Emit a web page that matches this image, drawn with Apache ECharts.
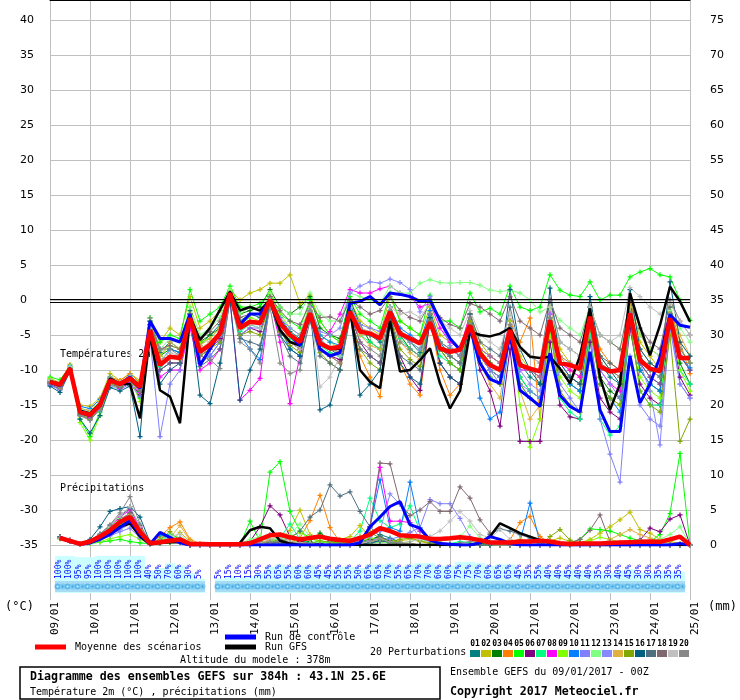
<!DOCTYPE html>
<html>
<head>
<meta charset="utf-8">
<script src="https://cdn.jsdelivr.net/npm/echarts@6/dist/echarts.min.js"></script>
<style>
html,body{margin:0;padding:0;background:#fff}
#main{width:740px;height:700px}
</style>
</head>
<body>
<div id="main"></div>
<script>
// pas de 6h, 65 échéances (0h .. 384h)
var dates = ['09/01','10/01','11/01','12/01','13/01','14/01','15/01','16/01','17/01',
  '18/01','19/01','20/01','21/01','22/01','23/01','24/01','25/01'];

var memberColors = ['#008080','#c0c000','#008000','#ff8000','#00ff00','#800080','#00ff80',
  '#ff00ff','#80ff00','#0080ff','#8080ff','#80ff80','#8888ff','#e0b040','#80a800',
  '#006080','#507080','#806870','#c0c0c0','#888888'];

// probabilité de précipitations (%) par échéance
var rainProb = [null,100,100,95,95,100,100,100,100,100,40,50,70,60,30,5,null,
  5,15,10,15,30,55,65,55,60,60,45,45,55,55,50,65,65,70,55,65,70,70,60,60,75,75,70,60,
  65,65,45,35,55,40,40,45,40,40,35,30,40,45,30,30,35,35,35,null];

// Températures 2m (°C)
var tempMean = [-11.7,-12.1,-9.8,-16,-16.4,-15,-11.5,-12,-11.2,-12.4, -4.3,-9.3,-8.1,-8.3,-2.6,-7.4,-6.4,-4.8,1,-4,-3.1,-3.3, 0,-3.3,-5,-6,-1.9,-6.2,-6.9,-6.7,-1.7,-4.5,-4.8,-5.5,-1.7,-4.8,-5.5,-6.2,-3.2,-6.9,-7.4,-7.1,-3.6,-7.6,-9.3,-10, -4.3,-9.3,-9.8,-10.2,-2.9,-9,-9.3,-9.8,-2.4,-9.5,-10.2,-10,-1.9,-8.6,-9.8,-10.2,-2.6,-8.3,-8.3];
var tempCtrl = [-11.8,-12.2,-9.8,-16,-16.5,-15,-11.4,-12,-11,-12.6, -3,-5.5,-5.5,-6,-2,-9.3,-7,-4.5,1,-3.5,-2,-2, 0,-3,-5,-6.5,-2,-7,-8,-7.5,-0.5,-0.2,0.5,-0.7,1,0.8,0.5,-0.2,0,-2.9,-5.5,-7.1,-4,-9,-11.3,-11.9, -5,-12.9,-14,-15.2,-7.6,-13.6,-15.2,-16,-7.4,-15.7,-18.8,-18.8,-8,-14.7,-12,-8.1,-2.1,-3.6,-3.9];
var tempGfs = [-11.6,-12,-9.7,-15.8,-16.2,-14.8,-11.2,-12,-12,-16.9, -5,-12.9,-13.8,-17.6,-2.4,-5.7,-4,-1.4,1.2,-1.5,-1,-1.5, 0,-4.3,-6,-6.5,-2,-6.2,-7,-7,-1.5,-10,-11.7,-12.6,-3,-10.2,-10,-8.6,-6.9,-11.9,-15.5,-13,-4.5,-5,-5.2,-4.8, -4,-6.7,-8.1,-8.3,-8.1,-9.8,-11.9,-8,-1.2,-11,-15.7,-12,1,-3.8,-7.9,-3.6,1.9,-0.2,-3.1];

var temp01 = [-11.5,-12.3,-9.6,-15.8,-16,-14.6,-11.2,-11.8,-10.8,-12, -3.5,-7.5,-6,-7,-1.5,-6.5,-5,-3.5,1,-3,-2,-2.5, 0.5,-2.5,-4.5,-5.5,-1,-5.5,-7,-8,-1.5,-4,-5,-6,-1,-4.5,-6,-7.5,-2.5,-6,-7,-8,-3,-8,-10,-11, -4,-9,-11,-12,-2.5,-10,-11,-12,-2,-9,-11,-12,-1,-8,-10,-11,-2,-7,-9];
var temp02 = [-11.2,-11.8,-9.2,-15,-15.2,-14,-10.5,-11.5,-10.5,-11.5, -3,-6,-4,-5,0.5,-4,-3,-1.5,1.5,0,1,1.5, 2.4,2.4,3.6,-0.5,0.7,-3,-5,-6,0,-3,-4,-5,0.5,-3,-4,-5,-1,-5,-6,-7,-2,-6,-8,-9, -3,-8,-10,-11,-1,-7,-9,-10,-1,-8,-10,-11,0,-6,-8,-10,-1,-7,-9];
var temp03 = [-11.8,-12.5,-10,-16.2,-16.8,-15.2,-11.8,-12.3,-11.5,-13, -4,-8,-7,-7.5,-2,-6,-5,-4,0.5,-2,-1.5,-1, 1.5,-1,-2,-1,0.5,-4,-5,-5.5,0,-3.5,-6,-7,-1,-5,-7,-8,-2,-7,-9,-10,-3,-8,-10,-11, -4,-11,-13,-14,-3,-10,-12,-13,-3,-11,-13,-14,-2,-10,-12,-13,-2,-9,-12];
var temp04 = [-11.4,-12,-9.5,-15.5,-15.8,-14.5,-11,-11.5,-10.5,-11.8, -3.5,-8.5,-8,-8.5,-2.5,-7,-6,-4.5,1,-4,-3.5,-3, 0,-3,-6,-7,-2,-7,-8,-9,-2,-8,-11,-13.8,-2,-9,-12,-13.6,-3,-10,-13.6,-12,-4,-8,-9,-10, -3,-6,-2.6,-17,-2,-8,-10,-11,-1,-7,-9,-10,-0.5,-5,-7,-8,-1,-6,-10.5];
var temp05 = [-11,-11.4,-9.5,-17,-19.5,-16,-11.5,-12.5,-11.5,-14, -2.5,-6,-5,-5.5,1.5,-3,-2,-1,2,-1,-1,-0.5, 1,-2,-3,-4,0,-3,-5,-6,0.5,-2,-3,-4,1,-3,-4,-5,0.7,-3,-3,-4,1,-1.7,-1.2,-2, 2,-1,-1.5,-1,3.6,1.4,0.7,0.5,2.6,0,0.7,0.7,3.3,4,4.5,3.6,3.3,0,-2.9];
var temp06 = [-12,-12.8,-10.2,-16.5,-17,-15.5,-12,-12.5,-11.8,-13.5, -5,-10,-9,-9,-3,-8,-7,-5.5,0.5,-5,-4,-4.5, -0.5,-4,-6,-7,-2.5,-7,-8,-8.5,-2,-6,-8,-9,-2.5,-8,-11,-12.9,-3,-9,-11,-12,-4,-10,-13,-18, -7,-20.2,-20.2,-20.2,-6,-15,-16.7,-17,-6,-14,-16,-17,-4,-12,-14,-15,-3,-11,-13.6];
var temp07 = [-11.6,-12.2,-9.7,-16.3,-16.5,-15,-11.6,-12.2,-11.4,-12.7, -4.5,-9.5,-8,-8,-3,-7.5,-6.5,-5,1,-4.5,-3.5,-4, 0,-3.5,-5.5,-6.5,-2,-6.5,-7.5,-8,-1.5,-5,-6,-7,-2,-5.5,-7,-8,-3,-8,-9,-10,-3.5,-9,-11,-12, -5,-11,-13,-14,-4,-14,-16,-17,-5,-17,-19.3,-18,-3,-13,-15,-15,-1,-10,-12];
var temp08 = [-11.9,-12.4,-9.9,-16,-16.8,-15.2,-11.7,-12.6,-11.8,-13.2, -5.5,-11,-10,-10,-4,-10,-9,-7,0,-14.3,-12.9,-11.2, 0,-6,-14.8,-8,-1,-6,-4.5,-2,1.5,1,1,1.6,2,1,0.5,-1,-0.5,-4,-6,-7,-2,-7,-8,-9, -3,-10,-10,-11,-2,-9,-10,-11,-3,-10,-12,-13,-2,-9,-11,-12,-3,-8,-10];
var temp09 = [-11.3,-12,-9.6,-17.5,-20,-16.5,-12,-12.8,-11.2,-14.5, -3,-8,-6.5,-7,-1,-6,-5.5,-4,1.5,-3.5,-2.5,-3, 1,-2,-4,-5,-0.5,-5,-6,-7,-1,-4,-5,-5.5,-1,-5,-6,-7,-1.5,-6,-8,-9,-2,-7,-9,-10, -3,-15,-21,-17,-5,-11,-13,-14,-4,-12,-14,-15,-2,-11,-13,-14,-1,-10,-13];
var temp10 = [-11.5,-12,-9.4,-15.2,-15.5,-14.2,-11,-11.8,-10.8,-12.2, -4,-9,-7,-7.5,-2.5,-9,-8,-6,0.5,-5,-7,-8.5, -0.5,-4,-7,-8,-1.5,-5,-6,-6.5,-0.5,-4,-5,-5.5,-1,-4,-5,-6,-1.5,-6,-8,-9,-3,-14,-17,-16, -5,-12,-14,-15,-3,-10,-12,-13,-3,-12,-14,-16,-2,-10,-12,-13,-2,-8,-9.7];
var temp11 = [-12.2,-12.8,-10,-16.5,-17,-15.8,-12.2,-12.8,-12,-13.8, -5.5,-19.5,-12,-10,-3,-9,-8,-6,0,-5,-4,-4, 0.5,-3,-5,-6,-1.5,-6,-7,-7.5,-1,-3.5,-4,-4.5,-1,-5,-6,-7,-2,-7,-8,-9,-3,-8,-10,-12, -4,-12,-13,-14,-3,-12,-14,-16,-4,-17,-22,-26,-8,-15,-17,-18,-4,-12,-14];
var temp12 = [-11.4,-11.9,-9.5,-15.5,-15.9,-14.4,-11.1,-11.8,-10.9,-12, -3,-7,-5.5,-6,-1,-5,-4,-2.5,1.5,-2,-1,-1.5, 1,-1,-2,-2,1,-2,-3,-3,1,0.5,0,-0.5,2,1,1,2.4,2.9,2.5,2.4,2.5,2.5,2.1,1.4,1.2, 1.4,1,0,-1.7,-1,-2.9,-4,-5,-1,-5,-6,-7,-1,-5,-7,-8,-1.5,-4,-6];
var temp13 = [-12,-12.6,-10.1,-16,-16.3,-15,-11.4,-12.2,-11.3,-12.6, -4.5,-9,-8,-8,-2.5,-7.5,-6.5,-5,0.5,-4,-3,-3.5, 0,-2.5,-4,-5,-1,-4.5,-5,-4,1,2,2.6,2.4,3,2.5,1.5,-1.7,0.5,-3,-6.5,-8,-3,-8,-10,-11, -4,-10,-12,-13,-2,-9,-11,-12,-3,-10,-12,-14,-2,-9,-13,-20.7,-3,-12,-14];
var temp14 = [-11.7,-12.2,-9.8,-16.1,-16.4,-15.1,-11.4,-12.1,-11.2,-12.3, -4,-8,-6,-7,-2,-6.5,-5.5,-4,1,-3.5,-3,-3, 0.5,-3,-5,-6,-1.5,-6,-7,-7.5,-1.5,-5,-6.5,-7,-1.5,-6,-7.5,-8.5,-3,-7,-8,-9,-3,-9,-12,-14, -5,-13,-17,-15,-4,-10,-11,-12,-2,-9,-10,-11,-1,-7,-9,-10,-1,-5,-8];
var temp15 = [-11.9,-12.6,-10,-16.3,-17,-15.5,-11.9,-12.4,-11.6,-13, -4.5,-9,-8,-8.5,-3,-8,-7,-6,0.5,-5,-4.5,-5, -0.5,-4.5,-6.5,-7.5,-2.5,-7.5,-9,-10,-2.5,-7,-9,-10,-2,-7,-8.5,-9.5,-2.5,-7,-9,-10,-3,-9,-11,-12, -5,-12,-14,-15,-4,-13,-15,-16,-4,-12,-14,-15,-3,-13,-15,-16,-5,-20.2,-17];
var temp16 = [-12.3,-13.2,-10.2,-17,-19,-16.5,-12.5,-13,-12.3,-19.5, -3,-12,-10,-9,-2,-13.6,-14.8,-9,0,-14.3,-10,-7, -0.5,-5,-7,-8,-1,-15.7,-15,-10,-1.5,-13.6,-12,-10,-2,-9,-11,-12,-2.5,-9,-11,-12,-2,-8,-9,-10, 1.5,-7,-10,-12,1.7,-9,-11,-12,0.5,-8,-10,-12,1.5,-7,-9,-10,2.6,-6,-8];
var temp17 = [-11.6,-12.2,-9.8,-16.3,-16.6,-15.2,-11.4,-12.2,-11.5,-13, -5,-10,-9,-9,-3,-9.5,-8.5,-7,0.5,-5.5,-6,-6.5, -0.5,-5,-8,-9,-3,-8,-9,-10,-2.5,-7,-8,-9,-2.5,-8,-9,-10,-3,-7,-8,-9,-2,-6,-7,-8, -1,-7,-8,-9,0,-6,-7,-8,-1,-8,-9,-10,0,-9,-11,-12,-1,-8,-10];
var temp18 = [-11.8,-12.3,-9.9,-15.8,-16.2,-14.9,-11.2,-11.9,-11,-12.1, -3.5,-7,-6.5,-7,-2,-5.5,-4.5,-3,1,-2.5,-2,-2, 0.5,-1.5,-3,-3.5,-0.5,-2.5,-2.4,-3,0,-1,-2,-1.5,0.5,-1.5,-2.5,-3,-0.5,-2.5,-3.5,-4,-0.5,-1,-2,-3, 0.5,-3,-4,-5,0,-4,-5,-6,-1,-5,-6,-7,0,-4,-6,-7,0,-3,-5];
var temp19 = [-11.5,-12,-9.6,-15.6,-16,-14.7,-11.3,-11.7,-10.9,-12.2, -4,-8.5,-7.5,-8,-2.5,-7,-6,-4.5,0.5,-4,-3.5,-4, 0,-4,-6,-7,-1,-12.4,-11,-8,-1,-4,-4.5,-5,-1,-2,-1.7,-2.5,-0.5,-3,-4,-5,-1.5,-5,-6,-7, -2,-7,-8,-9,-1,-6,-7,-8,-1,-5,-6,-5,1.8,0.5,-1,-2,-0.5,-3,-5];
var temp20 = [-11.9,-12.5,-10,-16.5,-17.2,-15.6,-11.8,-12.3,-11.4,-12.8, -2.6,-7,-7,-8,-2,-8,-8.5,-9.8,0.5,-6,-7,-9, -1,-9,-10.5,-10,-1.5,-7,-8,-9,-1.5,-6,-7,-8,-1.5,-6,-7,-8,-2,-6,-7,-8,-2.5,-7,-8,-9, -3.5,-9,-10,-11,-2.5,-8,-9,-10,-2.5,-9,-10,-11,-2,-8,-10,-11,-2,-7,-9];

// Précipitations (mm / 6h)
var precMean = [null,1.0,0.6,0.15,0.5,1.2,2.1,3.3,4.0,1.9, 0.25,0.4,0.6,0.8,0.15,0.15,0.1,0.1,0.1,0.1, 0.25,0.8,1.4,1.5,1.1,0.8,1.0,1.2,0.9,0.7, 0.6,1.0,1.5,2.4,2.0,1.4,1.3,1.2,0.9,0.85, 0.95,1.1,0.95,0.7,0.35,0.35,0.35,0.5,0.5,0.6, 0.5,0.25,0.15,0.2,0.2,0.2,0.3,0.35,0.4,0.45, 0.5,0.45,0.8,1.2,0];
var precCtrl = [null,1.0,0.5,0.1,0.3,0.8,1.5,2.5,3.5,1.5, 0.1,1.8,1.1,0.3,0,0,0,0,0,0, 0,0,0,0,0,0,0,0,0,0, 0,0.3,2.6,4.0,5.5,6.2,2.9,2.4,0.7,0.2, 0.1,0,0,0.3,1.2,0.8,0.2,0,0,0, 0,0,0,0,0,0,0,0,0,0, 0,0,0,0.2,0];
var precGfs = [null,1.0,0.5,0.2,0.4,0.9,1.6,2.6,3.1,1.2, 0.1,0.3,0.4,0.4,0,0,0,0,0,0.3, 2.1,2.6,2.4,0.6,0.2,0,0,0,0,0, 0,0,0,0,0,0,0,0,0,0, 0,0,0,0.3,1.2,3.1,2.4,1.7,1.2,0.7, 0.3,0,0,0,0,0,0,0,0,0, 0,0,0,0,0];

var prec01 = [null,1.1,0.5,0.1,0.6,1.5,2.4,3.6,4.5,2.0, 0.2,0.5,0.8,0.4,0,0,0,0,0,0, 0.5,1.0,0.8,0.3,0,0,0,0.2,0.6,0.2, 0,0,0.5,1.5,1.0,0.4,0,0,0,0, 0,0,0,0,0,0,0,0.3,0.5,0.2, 0,0,0,0,0,0,0,0,0,0, 0,0,0,0,0];
var prec02 = [null,0.9,0.6,0.2,0.3,0.9,1.6,2.8,3.5,1.0, 0.1,0.3,0.4,1.8,0.5,0,0,0,0,0, 0,0.2,0.5,0.7,2.1,5.0,1.5,0.5,0.3,0.8, 1.2,2.8,1.0,0.5,0.3,0.6,0.8,0.5,0.2,0, 0,0,0,0,0,0,0.5,0.8,0.5,0.3, 0.6,1.0,0.5,0.3,0.8,1.7,2.6,3.6,4.7,2.2, 1.7,0.8,0.5,0.2,0];
var prec03 = [null,1.0,0.7,0.1,0.4,1.0,1.8,3.0,3.8,1.5, 0.2,0.6,1.0,0.7,0,0,0,0,0,0, 0,0.3,0.6,0.4,0.2,0.5,0.5,1.7,0.8,0.3, 0.2,0.5,0.8,1.2,0.6,0.3,0.2,0,0,0, 0,0,0,0.2,0.3,0.5,0.2,0,0,0, 0,0,0,0,0,0,0,0,0,0, 0,0,0,0,0];
var prec04 = [null,1.2,0.6,0.2,0.5,1.3,2.2,3.5,4.2,2.2, 0.3,1.2,2.5,3.3,0.8,0.2,0,0,0,0, 0,0.3,0.8,0.5,0.4,1.0,3.5,7.1,2.5,0.4, 0.2,0.3,0.6,1.0,0.5,0.3,0.2,0,0,0, 0,0,0,0,0,0,0.7,3.2,4.1,1.2, 0.3,0,0,0,0,0,0,0,0,0, 0,0,0,0,0];
var prec05 = [null,0.9,0.5,0.1,0.2,0.4,0.6,0.8,0.5,0.3, 0.2,1.5,1.0,0.5,0,0,0,0,0,0, 3.4,0.5,10.4,11.9,4.8,2.0,1.0,0.5,0.3,0.2, 0,0,0.3,0.6,0.3,0,0,0,0,0, 0,0,0,0,0,0,0,0,0,0, 0,0,0.3,0.8,2.3,2.2,2.0,1.5,1.0,0.6, 0.5,1.5,4.5,13.1,0];
var prec06 = [null,1.0,0.6,0.2,0.5,1.1,2.0,3.2,4.6,2.4, 0.2,0.4,0.5,0.6,0,0,0,0,0,0, 0.5,2.6,5.6,4.3,1.2,0.5,0.3,0.2,0,0, 0,0,0.3,0.5,0.3,0,0,0,0,0, 0,0,0,0,0,0,0,0,0,0, 0,0,0,0,0,0,0,0,0.3,0.7, 2.4,1.9,3.7,4.3,0];
var prec07 = [null,1.0,0.6,0.2,0.4,1.2,2.3,3.4,4.1,1.8, 0.3,0.8,1.5,1.0,0.2,0,0,0,0,0, 0,0.2,0.5,1.0,3.0,0.8,0.3,0.5,0.2,0.3, 0.5,2.0,6.7,3.5,2.5,3.0,5.6,2.0,0.8,0.3, 0.2,0.5,0.3,0,0,0,0,0,0,0, 0,0,0,0,0,0,0,0,0,0, 0,0,0,0,0];
var prec08 = [null,1.1,0.7,0.2,0.6,1.4,2.6,4.0,5.0,2.6, 0.2,0.4,0.6,0.5,0,0,0,0,0,0, 0,0,0.2,0.5,0.3,0.2,0,0,0,0, 0.3,0.8,2.6,11.1,3.4,3.4,3.2,2.0,0.7,0.3, 0.2,0,0,0,0,0,0,0,0,0, 0,0,0,0,0,0,0,0,0,0, 0,0,0,0,0];
var prec09 = [null,0.9,0.5,0.1,0.2,0.5,0.9,1.2,1.5,0.8, 0.1,0.2,0.3,0.4,0,0,0,0,0,0, 0.3,1.0,0.8,0.6,1.2,1.8,0.9,0.5,0.3,0.2, 0.2,0.5,1.0,0.7,0.4,0.2,0,0,0,0, 0,0,0,0.5,0.4,0.2,0,0,0,0, 0,0,0,0,0.6,1.1,0.8,0.4,0.2,0, 0,0,0,0,0];
var prec10 = [null,1.0,0.6,0.2,0.5,1.2,2.0,3.1,4.2,1.6, 0.2,1.5,0.8,0.4,0,0,0,0,0,0, 0,0,0.3,0.5,0.4,0.2,0,0,0,0, 0.2,0.5,2.6,9.3,2.5,2.0,9.0,2.4,1.0,0.3, 0,0,0,0,0,0,0,0.5,6.0,0.3, 0,0,0,0,0,0,0,0,0,0, 0,0,0,0,0];
var prec11 = [null,1.0,0.5,0.1,0.4,0.8,1.3,1.9,2.4,1.0, 0.1,0.3,0.5,0.6,0,0,0,0,0,0, 0,0,0.2,0.4,0.2,0,0,0,0,0, 0.2,0.4,0.6,1.0,0.8,1.2,1.8,2.5,6.5,5.9, 5.9,3.8,1.2,0.5,0.2,0,0,0,0,0, 0,0,0,0,0,0,0,0,0,0, 0,0,0,0,0];
var prec12 = [null,1.0,0.6,0.2,0.5,1.3,2.5,3.8,4.4,2.0, 0.3,0.7,1.2,0.8,0.2,0,0,0,0,0.2, 0.8,1.2,0.6,0.5,1.5,3.0,1.2,0.6,0.3,0.2, 0,0,0.2,0.4,0.3,0.2,0.5,0.8,0.5,0.6, 0.8,1.2,2.7,1.0,0.4,0.2,0,0,0,0, 0,0,0,0,0,0,0,0,0.3,0.5, 0.6,0.8,1.5,2.6,0];
var prec13 = [null,1.0,0.6,0.2,0.4,1.0,1.6,2.2,3.0,1.2, 0.2,0.5,0.8,0.9,0,0,0,0,0,0, 0,0.5,1.5,0.8,0.3,0,0,0,0,0, 0.2,0.6,1.2,2.0,7.3,5.8,3.0,1.0,0.4,0.2, 0,0,0,0,0,0,0,0,0,0, 0,0,0,0,0,0,0,0,0,0, 0,0,0,0,0];
var prec14 = [null,1.1,0.6,0.2,0.5,1.2,2.2,3.4,4.3,2.1, 0.3,0.6,1.0,2.8,0.6,0,0,0,0,0, 0,0.2,0.6,1.5,0.8,0.3,0.2,0,0,0, 0,0.3,0.5,0.8,0.4,0.2,0,0,0,0, 0,0,0,0,0,0,0,0,0,0, 0,0,0,0,0,0,0.8,1.5,2.2,1.5, 1.0,0.5,0.3,0.2,0];
var prec15 = [null,1.0,0.6,0.2,0.5,1.1,1.9,2.9,3.6,1.7, 0.2,0.8,1.9,0.6,0,0,0,0,0,0, 0.2,0.5,0.3,0.8,0.5,0.3,0.2,0.6,0.4,0.3, 0.5,1.2,1.8,1.0,0.5,0.8,1.0,0.6,0.3,0.2, 0,0,0,0,0,0,0,0,0,0, 1.2,2.2,0.7,0.2,0,0,0,0,0,0, 0,0,0,0,0];
var prec16 = [null,1.2,0.6,0.2,0.8,2.6,4.8,5.2,5.5,4.0, 0.4,0.3,0.4,0.5,0,0,0,0,0,0, 0,0,0.2,0.3,0.2,0,0,0,0,0, 0,0,0.3,0.6,0.4,0.2,0,0,0,0, 0,0,0,0,0,0.3,0,0,0,0, 0,0,0,0,0,0,0,0,0,0, 0,0,0,0,0];
var prec17 = [null,1.1,0.6,0.2,0.6,1.6,2.8,4.2,5.2,2.8, 0.3,0.5,0.7,0.6,0,0,0,0,0,0, 0,0,0.3,0.5,1.0,2.0,4.0,5.0,8.6,7.0, 7.6,4.8,2.6,1.2,0.5,0.2,0,0,0,0, 0,0,0,0,1.5,2.3,2.0,1.5,1.0,0.5, 0.2,0,0,0,0,0,0,0,0,0, 0,0,0,0,0];
var prec18 = [null,1.0,0.6,0.2,0.5,1.2,2.2,3.6,4.6,2.3, 0.2,0.4,0.6,0.7,0,0,0,0,0,0, 0,0,0.2,0.4,0.2,0,0,0,0,0, 0.3,0.8,2.6,11.7,11.6,6.0,4.2,5.0,6.2,4.8, 4.8,8.3,6.7,3.6,1.7,0.5,0.2,0,0,0, 0,0,0.3,0.8,2.1,4.3,0.5,0.2,0,0, 0,0,0,0,0];
var prec19 = [null,1.0,0.6,0.2,0.5,1.4,2.6,4.2,5.5,2.6, 0.3,0.5,1.2,1.6,0.2,0,0,0,0,0, 0,0.3,0.8,1.0,0.5,0.3,0.2,0,0,0, 0,0.2,0.5,0.8,0.5,0.3,0.5,0.8,1.2,2.0, 3.4,4.8,3.4,1.5,1.0,2.2,0.8,0.3,0,0, 0,0,0,0,0,0,0,0,0,0, 0,0,0,0,0];
var prec20 = [null,1.1,0.6,0.2,0.5,1.5,2.9,4.6,6.9,3.0, 0.3,0.5,0.7,0.8,0,0,0,0,0,0, 0,0.2,0.5,0.6,0.3,0.2,0,0,0,0, 0.2,0.4,0.6,0.8,0.4,0.3,0.2,0,0,0, 0,0.3,0.5,0.4,0.2,0,0,0,0,0, 0,0,0,0,0,0,0,0,0,0, 0,0,0,0,0];

var tempMembers = [temp01,temp02,temp03,temp04,temp05,temp06,temp07,temp08,temp09,temp10,
  temp11,temp12,temp13,temp14,temp15,temp16,temp17,temp18,temp19,temp20];
var precMembers = [prec01,prec02,prec03,prec04,prec05,prec06,prec07,prec08,prec09,prec10,
  prec11,prec12,prec13,prec14,prec15,prec16,prec17,prec18,prec19,prec20];

var MONO = "'DejaVu Sans Mono', monospace";
var steps = [];
var xCats = [];
for (var i = 0; i < 65; i++) {
  steps.push(i * 6);
  xCats.push(i % 4 === 0 ? dates[i / 4] : '');
}
var cross = 'path://M-1,-4H1V-1H4V1H1V4H-1V1H-4V-1H-1Z';

var chart = echarts.init(document.getElementById('main'));

var series = [];
function memberLine(data, color, yIdx) {
  return {
    type: 'line', xAxisIndex: 0, yAxisIndex: yIdx, data: data,
    symbol: cross, symbolSize: 5, showSymbol: true, silent: true,
    lineStyle: {width: 1, color: color}, itemStyle: {color: color}, z: 2
  };
}
function mainLine(data, color, w, yIdx, z) {
  return {
    type: 'line', xAxisIndex: 0, yAxisIndex: yIdx, data: data,
    symbol: 'none', silent: true, lineStyle: {width: w, color: color}, z: z
  };
}
for (var m = 0; m < 20; m++) {
  series.push(memberLine(tempMembers[m], memberColors[m], 0));
  series.push(memberLine(precMembers[m], memberColors[m], 1));
}
var gfsT = mainLine(tempGfs, '#000', 2.5, 0, 3);
gfsT.markLine = {
  silent: true, symbol: 'none', label: {show: false}, animation: false,
  lineStyle: {color: '#000', width: 1.2, type: 'solid'},
  data: [{yAxis: 0.1}, {yAxis: -0.25}]
};
series.push(gfsT);
series.push(mainLine(precGfs, '#000', 2.5, 1, 3));
series.push(mainLine(tempCtrl, '#0000ff', 3, 0, 4));
series.push(mainLine(precCtrl, '#0000ff', 3, 1, 4));
series.push(mainLine(tempMean, '#ff0000', 4.5, 0, 5));
series.push(mainLine(precMean, '#ff0000', 4.5, 1, 5));

// bandeau des probabilités de précipitations
var probData = [];
rainProb.forEach(function (p, i) { if (p !== null) probData.push([i, p]); });
series.push({
  type: 'custom', xAxisIndex: 1, yAxisIndex: 2, data: probData, clip: false, silent: true, z: 1,
  renderItem: function (params, api) {
    var i = api.value(0), p = api.value(1);
    var x = api.coord([i, 0])[0];
    var yb = api.coord([i, 593])[1];
    var h = 13 + p * 0.24;
    var kids = [
      {type: 'rect', shape: {x: x - 5, y: yb - h, width: 10, height: h}, style: {fill: '#ccffff'}},
      {type: 'rect', shape: {x: x - 5, y: yb - 12, width: 10, height: 11}, style: {fill: '#a8dcf4'}},
      {type: 'circle', shape: {cx: x - 2.5, cy: yb - 6.5, r: 3}, style: {fill: '#5cb8ea'}},
      {type: 'circle', shape: {cx: x + 2.5, cy: yb - 6.5, r: 3}, style: {fill: '#7ccaf0'}},
      {type: 'circle', shape: {cx: x - 2.5, cy: yb - 6.5, r: 1}, style: {fill: '#d8f2ff'}},
      {type: 'circle', shape: {cx: x + 2.5, cy: yb - 6.5, r: 1}, style: {fill: '#3aa0dc'}},
      {type: 'text', x: x - 1, y: yb - 14, rotation: Math.PI / 2,
        style: {text: p + '%', fill: '#0000ff', font: '8px ' + MONO, align: 'left', verticalAlign: 'middle'}}
    ];
    return {type: 'group', children: kids};
  }
});

var graphics = [
  {type: 'text', x: 5, y: 607, style: {text: '(°C)', font: '12px ' + MONO, fill: '#000', verticalAlign: 'middle'}},
  {type: 'text', x: 708, y: 607, style: {text: '(mm)', font: '12px ' + MONO, fill: '#000', verticalAlign: 'middle'}},
  {type: 'text', x: 60, y: 354, style: {text: 'Températures 2m', font: '10px ' + MONO, fill: '#000', verticalAlign: 'middle'}},
  {type: 'text', x: 60, y: 488, style: {text: 'Précipitations', font: '10px ' + MONO, fill: '#000', verticalAlign: 'middle'}},
  {type: 'line', shape: {x1: 35, y1: 647, x2: 66, y2: 647}, style: {stroke: '#ff0000', lineWidth: 5}},
  {type: 'text', x: 75, y: 647, style: {text: 'Moyenne des scénarios', font: '10px ' + MONO, fill: '#000', verticalAlign: 'middle'}},
  {type: 'line', shape: {x1: 225, y1: 637, x2: 256, y2: 637}, style: {stroke: '#0000ff', lineWidth: 5}},
  {type: 'text', x: 265, y: 637, style: {text: 'Run de contrôle', font: '10px ' + MONO, fill: '#000', verticalAlign: 'middle'}},
  {type: 'line', shape: {x1: 225, y1: 647, x2: 256, y2: 647}, style: {stroke: '#000', lineWidth: 5}},
  {type: 'text', x: 265, y: 647, style: {text: 'Run GFS', font: '10px ' + MONO, fill: '#000', verticalAlign: 'middle'}},
  {type: 'text', x: 180, y: 660, style: {text: 'Altitude du modele : 378m', font: '10px ' + MONO, fill: '#000', verticalAlign: 'middle'}},
  {type: 'text', x: 370, y: 652, style: {text: '20 Perturbations', font: '10px ' + MONO, fill: '#000', verticalAlign: 'middle'}},
  {type: 'rect', shape: {x: 20, y: 667, width: 420, height: 32}, style: {fill: 'none', stroke: '#000', lineWidth: 1.5}},
  {type: 'text', x: 30, y: 677, style: {text: 'Diagramme des ensembles GEFS sur 384h : 43.1N 25.6E', font: 'bold 11.6px ' + MONO, fill: '#000', verticalAlign: 'middle'}},
  {type: 'text', x: 30, y: 692, style: {text: 'Température 2m (°C) , précipitations (mm)', font: '10px ' + MONO, fill: '#000', verticalAlign: 'middle'}},
  {type: 'text', x: 450, y: 672, style: {text: 'Ensemble GEFS du 09/01/2017 - 00Z', font: '10px ' + MONO, fill: '#000', verticalAlign: 'middle'}},
  {type: 'text', x: 450, y: 692, style: {text: 'Copyright 2017 Meteociel.fr', font: 'bold 11.6px ' + MONO, fill: '#000', verticalAlign: 'middle'}}
];
memberColors.forEach(function (c, k) {
  var bx = 470 + k * 11;
  graphics.push({type: 'rect', shape: {x: bx, y: 650, width: 10, height: 7}, style: {fill: c}});
  graphics.push({type: 'text', x: bx + 5, y: 644, style: {text: (k < 9 ? '0' : '') + (k + 1), font: 'bold 8px ' + MONO, fill: '#000', align: 'center', verticalAlign: 'middle'}});
});

chart.setOption({
  animation: false,
  backgroundColor: '#fff',
  grid: [
    {left: 50, right: 50, top: 20, bottom: 155},
    {left: 50, right: 50, top: 0, bottom: 100}
  ],
  xAxis: [
    {type: 'category', gridIndex: 0, data: steps, boundaryGap: false, show: false},
    {type: 'category', gridIndex: 1, data: xCats, boundaryGap: false,
      axisLine: {show: true, lineStyle: {color: '#000', width: 1}},
      axisTick: {show: false},
      splitLine: {show: true, interval: 3, lineStyle: {color: '#c0c0c0', width: 1}},
      axisLabel: {interval: 3, rotate: 90, margin: 2, verticalAlign: 'top',
        fontFamily: 'DejaVu Sans Mono', fontSize: 11, color: '#000'}}
  ],
  yAxis: [
    {type: 'value', gridIndex: 0, min: -35, max: 40, interval: 5, position: 'left',
      axisLine: {show: false}, axisTick: {show: false},
      splitLine: {show: true, lineStyle: {color: '#c0c0c0', width: 1}},
      axisLabel: {align: 'left', margin: 30, fontFamily: 'DejaVu Sans', fontSize: 11, color: '#000'}},
    {type: 'value', gridIndex: 0, min: 0, max: 75, interval: 5, position: 'right',
      axisLine: {show: false}, axisTick: {show: false}, splitLine: {show: false},
      axisLabel: {margin: 20, fontFamily: 'DejaVu Sans', fontSize: 11, color: '#000'}},
    {type: 'value', gridIndex: 1, min: 0, max: 600, inverse: true, show: false}
  ],
  graphic: graphics,
  series: series
});
</script>
</body>
</html>
